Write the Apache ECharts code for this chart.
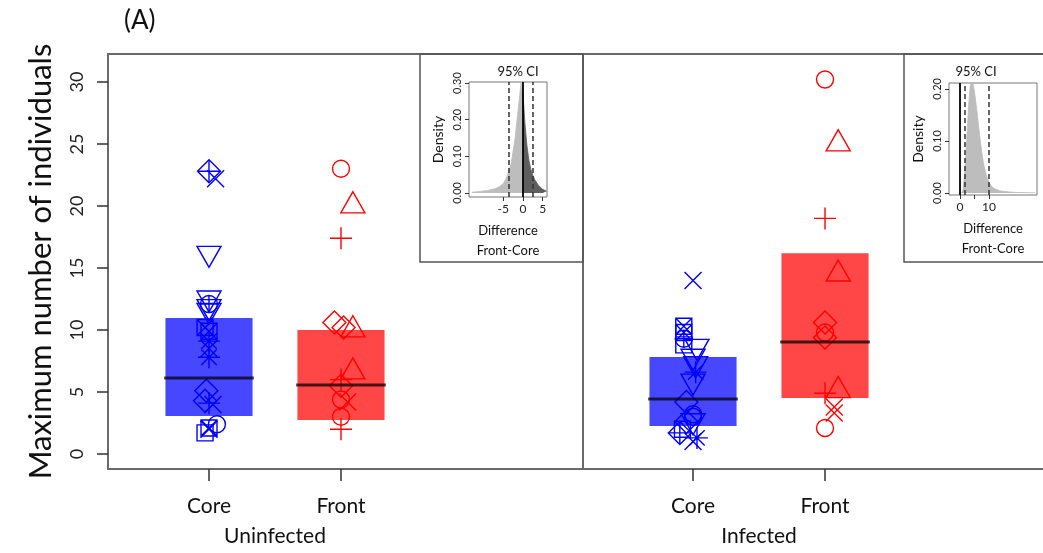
<!DOCTYPE html>
<html>
<head>
<meta charset="utf-8">
<script src="https://cdn.jsdelivr.net/npm/echarts@6/dist/echarts.min.js"></script>
<style>html,body{margin:0;padding:0;background:#fff}#c{width:1043px;height:553px}</style>
</head>
<body>
<div id="c"></div>
<script>
// ---------------- DATA ----------------
const categories = ['Core', 'Front', 'Core', 'Front'];
const groups = ['Uninfected', 'Infected'];
const yTicks = [0, 5, 10, 15, 20, 25, 30];
// box limits (lower quartile, median, upper quartile)
const boxQ1 = [3.06, 2.74, 2.26, 4.52];
const boxMed = [6.13, 5.56, 4.44, 9.03];
const boxQ3 = [10.97, 10.0, 7.82, 16.2];

// individual points: values, marker shapes, small jitter
const uninfCoreY = [22.8, 22.8, 22.2, 15.9, 12.3, 12.1, 11.6, 11.3, 10.2, 9.9, 9.1, 8.5, 7.8, 5.1, 4.3, 4.1, 4.0, 2.4, 2.1, 2.0, 1.7];
const uninfCoreShape = ['diamond', 'plus', 'x', 'tridown', 'tridown', 'circleplus', 'tridown', 'tridown', 'squarex', 'squarex', 'asterisk', 'x', 'asterisk', 'diamond', 'diamond', 'plus', 'x', 'circle', 'squarex', 'x', 'square'];
const uninfCoreDx = [0, 0, 0.05, 0, 0, 0, 0, 0, -0.03, 0, 0, 0, 0, -0.02, -0.03, 0, 0.03, 0.06, 0, 0, -0.03];

const uninfFrontY = [23.0, 20.3, 17.4, 10.6, 10.2, 10.3, 6.9, 6.0, 5.5, 4.4, 4.2, 3.0, 2.0];
const uninfFrontShape = ['circle', 'triangle', 'plus', 'diamond', 'diamond', 'triangle', 'triangle', 'plus', 'diamond', 'circle', 'x', 'circle', 'plus'];
const uninfFrontDx = [0, 0.09, 0, -0.05, 0.02, 0.09, 0.09, 0, 0, 0, 0.05, 0, 0];

const infCoreY = [14.0, 10.3, 9.8, 9.3, 8.8, 8.4, 7.6, 7.0, 6.6, 5.6, 4.2, 3.2, 3.0, 2.6, 2.4, 2.0, 1.7, 1.3, 1.0];
const infCoreShape = ['x', 'squarex', 'squarex', 'circleplus', 'square', 'tridown', 'tridown', 'tridown', 'asterisk', 'tridown', 'diamond', 'circle', 'circle', 'diamond', 'tridown', 'square', 'diamondplus', 'asterisk', 'x'];
const infCoreDx = [0, -0.07, -0.07, -0.07, -0.07, 0.03, 0, 0.02, 0.02, 0, -0.05, 0, 0, -0.05, 0, -0.08, -0.1, 0.03, 0];

const infFrontY = [30.2, 25.3, 19.0, 14.8, 10.6, 9.8, 9.4, 5.4, 4.9, 3.8, 3.3, 2.1];
const infFrontShape = ['circle', 'triangle', 'plus', 'triangle', 'diamond', 'circle', 'diamond', 'triangle', 'plus', 'x', 'x', 'circle'];
const infFrontDx = [0, 0.1, 0, 0.1, 0, 0, 0, 0.1, 0, 0.07, 0.07, 0];

// inset A: posterior density of difference (Front-Core), uninfected
const densA_x = [-13, -11, -9, -7, -6, -5, -4.5, -4, -3, -2, -1.5, -1, -0.5, 0, 0.5, 1, 1.5, 2, 2.5, 3, 4, 5, 6];
const densA_y = [0.002, 0.004, 0.007, 0.012, 0.017, 0.026, 0.035, 0.047, 0.08, 0.15, 0.2, 0.25, 0.30, 0.27, 0.19, 0.13, 0.09, 0.065, 0.048, 0.036, 0.02, 0.01, 0.005];
const ciA = [-3.7, 2.5];
const xTicksA = [-5, 0, 5];
const yTicksA = [0, 0.1, 0.2, 0.3];

// inset B: infected
const densB_x = [0.5, 1, 1.5, 2, 2.5, 3, 3.5, 4, 4.5, 5, 6, 7, 8, 9, 10, 11, 12, 14, 17, 20, 26];
const densB_y = [0, 0.005, 0.03, 0.07, 0.12, 0.17, 0.205, 0.215, 0.21, 0.195, 0.15, 0.10, 0.06, 0.035, 0.02, 0.012, 0.008, 0.004, 0.002, 0.001, 0.0005];
const ciB = [1.7, 9.9];
const xTicksB = [0, 5, 10];
const xLabelsB = [0, 10];
const yTicksB = [0, 0.1, 0.2];

// ---------------- LAYOUT / STYLE ----------------
const catPos = [1, 2, 4.667, 5.667];
const groupPos = [1.5, 5.167];
const X_MIN = 0.2348, X_MAX = 7.47, DIVIDER = 3.833, BOX_W = 0.66;
const BLUE = '#0000ff', RED = '#ff0000';
const boxFill = ['rgba(0,0,255,0.72)', 'rgba(255,0,0,0.72)', 'rgba(0,0,255,0.72)', 'rgba(255,0,0,0.72)'];
const FONT = 'Lato, "Open Sans", sans-serif';
const FRAME = '#6a6a6a';

const SYM = {
  circle: 'path://M0,10A10,10,0,1,1,20,10A10,10,0,1,1,0,10Z',
  circleplus: 'path://M0,10A10,10,0,1,1,20,10A10,10,0,1,1,0,10ZM10,0L10,20M0,10L20,10',
  square: 'path://M0,0L20,0L20,20L0,20Z',
  squarex: 'path://M0,0L20,0L20,20L0,20ZM0,0L20,20M20,0L0,20',
  diamond: 'path://M10,0L20,10L10,20L0,10Z',
  diamondplus: 'path://M10,0L20,10L10,20L0,10ZM10,0L10,20M0,10L20,10',
  triangle: 'path://M10,0L20,17.3L0,17.3Z',
  tridown: 'path://M0,0L20,0L10,17.3Z',
  plus: 'path://M10,0L10,20M0,10L20,10',
  x: 'path://M0,0L20,20M20,0L0,20',
  asterisk: 'path://M10,0L10,20M0,10L20,10M3,3L17,17M17,3L3,17'
};
const SIZE = {
  circle: 17, circleplus: 17, square: 16, squarex: 16, diamond: 23, diamondplus: 23,
  triangle: [24, 21], tridown: [24, 21], plus: 22, x: 17, asterisk: 22
};

function pts(pos, ys, shapes, dxs) {
  return ys.map((y, i) => ({
    value: [pos + dxs[i], y],
    symbol: SYM[shapes[i]],
    symbolSize: SIZE[shapes[i]]
  }));
}
function pairs(xs, ys) { return xs.map((x, i) => [x, ys[i]]); }

function scatter(data, color) {
  return {
    type: 'scatter', xAxisIndex: 0, yAxisIndex: 0, data: data, z: 4,
    symbolKeepAspect: false,
    itemStyle: { color: 'rgba(0,0,0,0)', borderColor: color, borderWidth: 1.4, opacity: 1 },
    emphasis: { disabled: true }, silent: true, animation: false
  };
}

const boxData = catPos.map((p, i) => [p, boxQ1[i], boxQ3[i], boxMed[i], i]);

const tickFmt = v => {
  const i = catPos.findIndex(p => Math.abs(p - v) < 1e-6);
  return i >= 0 ? categories[i] : '';
};
const groupFmt = v => {
  const i = groupPos.findIndex(p => Math.abs(p - v) < 1e-6);
  return i >= 0 ? groups[i] : '';
};

const densAleft = pairs(densA_x, densA_y).filter(d => d[0] <= 0);
const densAright = pairs(densA_x, densA_y).filter(d => d[0] >= 0);

function dashLines(vals) {
  return {
    silent: true, symbol: 'none', label: { show: false },
    lineStyle: { color: '#333', type: [5, 3], width: 1.5 },
    data: vals.map(v => ({ xAxis: v }))
  };
}

const noLine = { show: false, onZero: false };

const option = {
  animation: false,
  backgroundColor: '#fff',
  grid: [
    { left: 108, top: 54, right: -20, bottom: 84, show: true, borderColor: FRAME, borderWidth: 2, outerBoundsMode: 'none' },
    { left: 469, top: 82, width: 78, height: 115, show: true, borderColor: '#777', borderWidth: 1, backgroundColor: '#fff', outerBoundsMode: 'none' },
    { left: 949, top: 83, width: 88, height: 112, show: true, borderColor: '#777', borderWidth: 1, backgroundColor: '#fff', outerBoundsMode: 'none' }
  ],
  xAxis: [
    {
      gridIndex: 0, type: 'value', min: X_MIN, max: X_MAX, position: 'bottom',
      axisLine: noLine, splitLine: { show: false },
      axisTick: { show: true, inside: false, length: 12, customValues: catPos, lineStyle: { color: '#333', width: 1.5 } },
      axisLabel: { customValues: catPos, formatter: tickFmt, margin: 27, fontSize: 21, color: '#111', fontFamily: FONT }
    },
    {
      gridIndex: 0, type: 'value', min: X_MIN, max: X_MAX, position: 'bottom', offset: 0,
      axisLine: noLine, splitLine: { show: false }, axisTick: { show: false },
      axisLabel: { customValues: groupPos, formatter: groupFmt, margin: 57, fontSize: 21, color: '#111', fontFamily: FONT }
    },
    {
      gridIndex: 1, type: 'value', min: -13.7, max: 6.1, position: 'bottom',
      axisLine: noLine, splitLine: { show: false },
      axisTick: { show: true, length: 4, customValues: xTicksA, lineStyle: { color: '#333' } },
      axisLabel: { customValues: xTicksA, margin: 6, fontSize: 12, color: '#222', fontFamily: FONT },
      name: 'Difference\nFront-Core', nameLocation: 'middle', nameGap: 24,
      nameTextStyle: { fontSize: 13, color: '#111', fontFamily: FONT, lineHeight: 20 }
    },
    {
      gridIndex: 2, type: 'value', min: -3.79, max: 26.55, position: 'bottom',
      axisLine: noLine, splitLine: { show: false },
      axisTick: { show: true, length: 4, customValues: xTicksB, lineStyle: { color: '#333' } },
      axisLabel: { customValues: xLabelsB, margin: 6, fontSize: 12, color: '#222', fontFamily: FONT },
      name: 'Difference\nFront-Core', nameLocation: 'middle', nameGap: 24,
      nameTextStyle: { fontSize: 13, color: '#111', fontFamily: FONT, lineHeight: 20 }
    }
  ],
  yAxis: [
    {
      gridIndex: 0, type: 'value', min: -1.21, max: 32.26, position: 'left',
      axisLine: noLine, splitLine: { show: false },
      axisTick: { show: true, length: 11, customValues: yTicks, lineStyle: { color: '#333', width: 1.5 } },
      axisLabel: { customValues: yTicks, rotate: 90, margin: 22, fontSize: 18, color: '#222', fontFamily: FONT },
      name: 'Maximum number of individuals', nameLocation: 'middle', nameGap: 52,
      nameTextStyle: { fontSize: 31, color: '#111', fontFamily: FONT }
    },
    {
      gridIndex: 1, type: 'value', min: -0.011, max: 0.303, position: 'left',
      axisLine: noLine, splitLine: { show: false },
      axisTick: { show: true, length: 4, customValues: yTicksA, lineStyle: { color: '#333' } },
      axisLabel: { customValues: yTicksA, rotate: 90, margin: 6, fontSize: 11, color: '#222', fontFamily: FONT, formatter: v => v.toFixed(2) },
      name: 'Density', nameLocation: 'middle', nameGap: 24,
      nameTextStyle: { fontSize: 14, color: '#111', fontFamily: FONT }
    },
    {
      gridIndex: 2, type: 'value', min: -0.0038, max: 0.2115, position: 'left',
      axisLine: noLine, splitLine: { show: false },
      axisTick: { show: true, length: 4, customValues: yTicksB, lineStyle: { color: '#333' } },
      axisLabel: { customValues: yTicksB, rotate: 90, margin: 6, fontSize: 11, color: '#222', fontFamily: FONT, formatter: v => v.toFixed(2) },
      name: 'Density', nameLocation: 'middle', nameGap: 24,
      nameTextStyle: { fontSize: 14, color: '#111', fontFamily: FONT }
    }
  ],
  graphic: [
    { type: 'text', left: 124, top: 8, style: { text: '(A)', fontSize: 26, fill: '#111', fontFamily: FONT } },
    { type: 'rect', shape: { x: 420, y: 54, width: 163, height: 208 }, style: { fill: 'none', stroke: '#555', lineWidth: 1.5 }, z: 10 },
    { type: 'rect', shape: { x: 904, y: 54, width: 180, height: 208 }, style: { fill: 'none', stroke: '#555', lineWidth: 1.5 }, z: 10 },
    { type: 'text', x: 518, y: 72, style: { text: '95% CI', fontSize: 13, fill: '#111', fontFamily: FONT, align: 'center', verticalAlign: 'middle' }, z: 10 },
    { type: 'text', x: 976, y: 72, style: { text: '95% CI', fontSize: 13, fill: '#111', fontFamily: FONT, align: 'center', verticalAlign: 'middle' }, z: 10 }
  ],
  series: [
    {
      type: 'custom', xAxisIndex: 0, yAxisIndex: 0, data: boxData, z: 2, silent: true,
      renderItem: function (params, api) {
        const x = api.value(0), q1 = api.value(1), q3 = api.value(2), idx = api.value(4);
        const a = api.coord([x - BOX_W / 2, q3]);
        const b = api.coord([x + BOX_W / 2, q1]);
        return { type: 'rect', shape: { x: a[0], y: a[1], width: b[0] - a[0], height: b[1] - a[1] }, style: { fill: boxFill[idx] } };
      },
      markLine: {
        silent: true, symbol: 'none', label: { show: false },
        lineStyle: { color: FRAME, type: 'solid', width: 2 },
        data: [{ xAxis: DIVIDER }]
      }
    },
    scatter(pts(catPos[0], uninfCoreY, uninfCoreShape, uninfCoreDx), BLUE),
    scatter(pts(catPos[1], uninfFrontY, uninfFrontShape, uninfFrontDx), RED),
    scatter(pts(catPos[2], infCoreY, infCoreShape, infCoreDx), BLUE),
    scatter(pts(catPos[3], infFrontY, infFrontShape, infFrontDx), RED),
    {
      type: 'custom', xAxisIndex: 0, yAxisIndex: 0, data: boxData, z: 6, silent: true,
      renderItem: function (params, api) {
        const x = api.value(0), m = api.value(3);
        const a = api.coord([x - BOX_W / 2 - 0.01, m]);
        const b = api.coord([x + BOX_W / 2 + 0.01, m]);
        return { type: 'line', shape: { x1: a[0], y1: a[1], x2: b[0], y2: b[1] }, style: { stroke: 'rgba(0,0,0,0.72)', lineWidth: 3 } };
      }
    },
    // inset A
    {
      type: 'line', xAxisIndex: 2, yAxisIndex: 1, data: densAleft, showSymbol: false, silent: true,
      lineStyle: { width: 0.8, color: '#bdbdbd' }, areaStyle: { color: '#bdbdbd', opacity: 1 },
      markLine: dashLines(ciA)
    },
    {
      type: 'line', xAxisIndex: 2, yAxisIndex: 1, data: densAright, showSymbol: false, silent: true,
      lineStyle: { width: 0.8, color: '#5e5e5e' }, areaStyle: { color: '#5e5e5e', opacity: 1 },
      markLine: { silent: true, symbol: 'none', label: { show: false }, lineStyle: { color: '#000', type: 'solid', width: 1.8 }, data: [{ xAxis: 0 }] }
    },
    // inset B
    {
      type: 'line', xAxisIndex: 3, yAxisIndex: 2, data: pairs(densB_x, densB_y), showSymbol: false, silent: true,
      lineStyle: { width: 0.8, color: '#bdbdbd' }, areaStyle: { color: '#bdbdbd', opacity: 1 },
      markLine: dashLines(ciB)
    },
    {
      type: 'line', xAxisIndex: 3, yAxisIndex: 2, data: [[0, 0]], showSymbol: false, silent: true,
      lineStyle: { width: 0 },
      markLine: { silent: true, symbol: 'none', label: { show: false }, lineStyle: { color: '#000', type: 'solid', width: 1.8 }, data: [{ xAxis: 0 }] }
    }
  ]
};

const chart = echarts.init(document.getElementById('c'), null, { renderer: 'canvas' });
chart.setOption(option);
</script>
</body>
</html>
